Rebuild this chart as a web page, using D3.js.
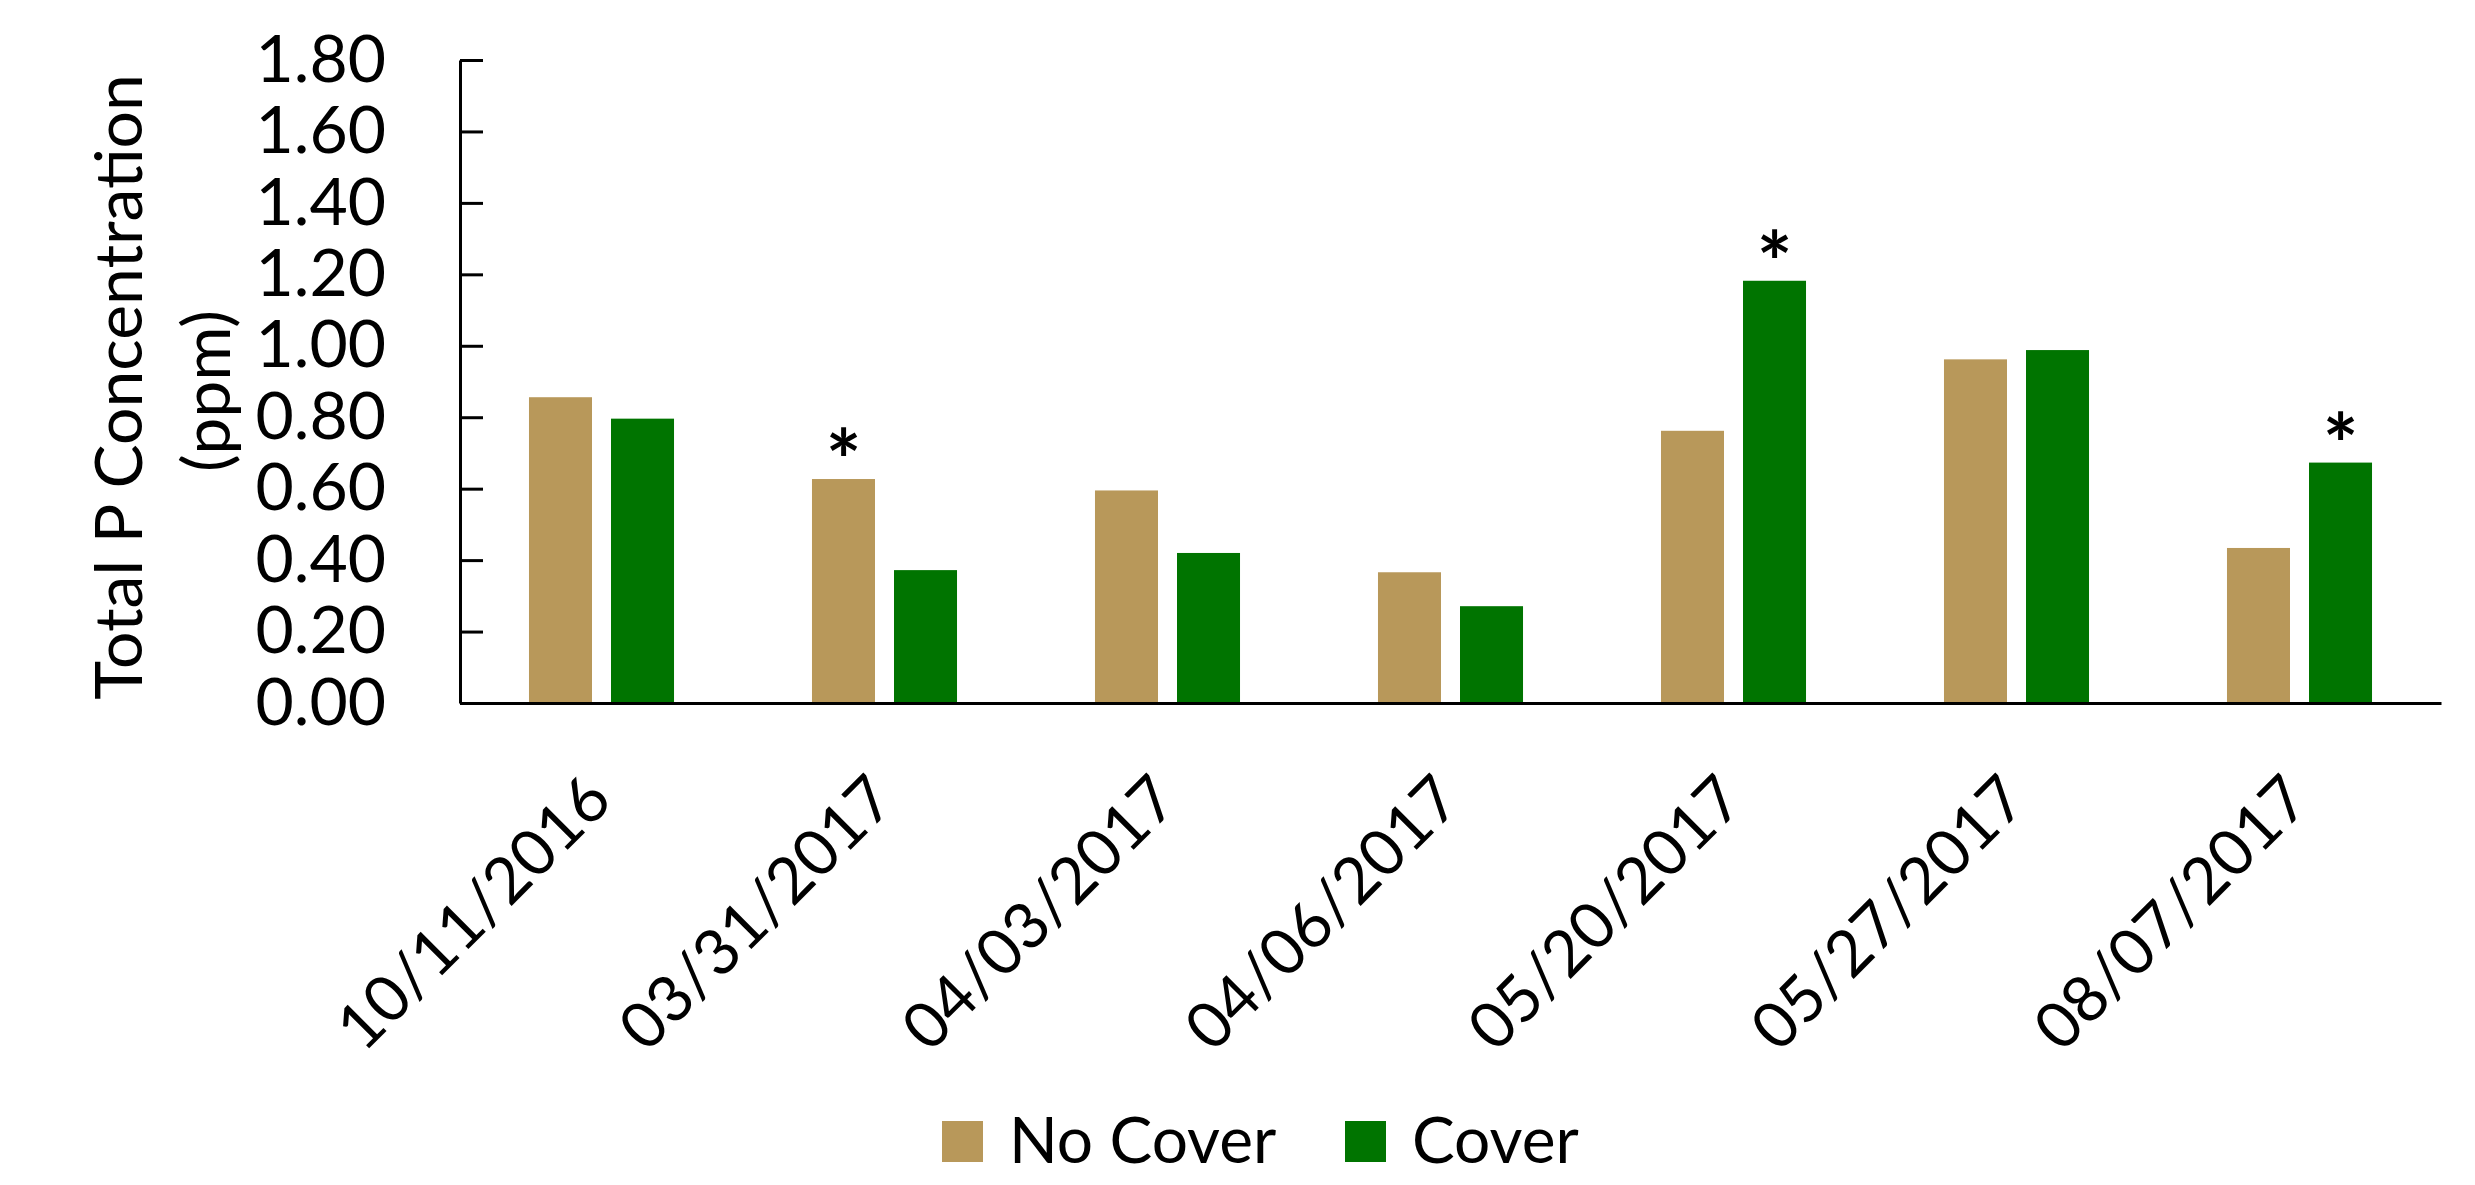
<!DOCTYPE html>
<html>
<head>
<meta charset="utf-8">
<script src="https://cdn.jsdelivr.net/npm/d3@7/dist/d3.min.js"></script>
<style>
  html, body { margin: 0; padding: 0; background: #ffffff; }
  svg { display: block; }
  text { font-family: Lato, "Open Sans", "Noto Sans", sans-serif; fill: #000; }
</style>
</head>
<body>
<svg id="chart" width="2475" height="1185"></svg>
<script>
// Sampling dates
const categories = ["10/11/2016", "03/31/2017", "04/03/2017", "04/06/2017", "05/20/2017", "05/27/2017", "08/07/2017"];
// Total P concentration (ppm) per treatment
const noCover = [0.856, 0.627, 0.595, 0.366, 0.762, 0.962, 0.434];
const cover   = [0.796, 0.372, 0.420, 0.271, 1.182, 0.988, 0.673];
const seriesNames = ["No Cover", "Cover"];
const seriesColors = ["#B8985A", "#007400"];
// Y-axis tick values
const yTicks = [0, 0.2, 0.4, 0.6, 0.8, 1.0, 1.2, 1.4, 1.6, 1.8];
// Significant differences, marked with an asterisk
const sigDates  = ["03/31/2017", "05/20/2017", "08/07/2017"];
const sigSeries = ["No Cover", "Cover", "Cover"];

const seriesValues = { "No Cover": noCover, "Cover": cover };
const rows = categories.map((c, i) => ({ date: c, values: seriesNames.map(s => ({ series: s, value: seriesValues[s][i] })) }));

const svg = d3.select("#chart");
const FS = 66;

const x0 = d3.scaleBand().domain(categories).range([460, 2441]).padding(0);
const x1 = d3.scaleBand().domain(seriesNames).range([0, x0.bandwidth()])
  .paddingInner(0.2317).paddingOuter(0.841);
const y = d3.scaleLinear().domain([0, 1.8]).range([703, 60]);
const color = d3.scaleOrdinal().domain(seriesNames).range(seriesColors);

// Bars
const groups = svg.append("g").selectAll("g").data(rows).join("g")
  .attr("transform", d => `translate(${x0(d.date)},0)`);
groups.selectAll("rect").data(d => d.values).join("rect")
  .attr("x", d => x1(d.series))
  .attr("width", x1.bandwidth())
  .attr("y", d => y(d.value))
  .attr("height", d => y(0) - y(d.value))
  .attr("fill", d => color(d.series));

// Significance asterisks
svg.append("g").selectAll("text").data(sigDates.map((d, i) => ({ date: d, series: sigSeries[i] })))
  .join("text")
  .attr("x", d => x0(d.date) + x1(d.series) + x1.bandwidth() / 2)
  .attr("y", d => y(seriesValues[d.series][categories.indexOf(d.date)]) + 12)
  .attr("text-anchor", "middle")
  .style("font-size", "84px")
  .style("font-weight", "bold")
  .text("*");

// Y axis
const yAxis = svg.append("g").attr("transform", "translate(460,0)")
  .call(d3.axisLeft(y).tickValues(yTicks).tickFormat(d3.format(".2f"))
    .tickSizeInner(-23).tickSizeOuter(0).tickPadding(74));
yAxis.selectAll("text").style("font-size", FS + "px").style("font-family", "Lato, 'Open Sans', sans-serif").attr("fill", "#000");
yAxis.selectAll("line").attr("stroke", "#000").attr("stroke-width", 3);
yAxis.select(".domain").attr("stroke", "#000").attr("stroke-width", 3);

// X axis
const xAxis = svg.append("g").attr("transform", "translate(0,703)")
  .call(d3.axisBottom(x0).tickSize(0).tickSizeOuter(0));
xAxis.select(".domain").attr("stroke", "#000").attr("stroke-width", 3);
xAxis.selectAll("text")
  .attr("x", 0).attr("y", 0).attr("dy", 0)
  .attr("text-anchor", "end")
  .attr("transform", "translate(13,100) rotate(-45)")
  .style("font-size", "64px").style("font-family", "Lato, 'Open Sans', sans-serif").attr("fill", "#000");

// Y axis title
const title = svg.append("g").style("font-size", FS + "px");
title.append("text").attr("transform", "translate(142,387) rotate(-90)")
  .attr("text-anchor", "middle").text("Total P Concentration");
title.append("text").attr("transform", "translate(230,391) rotate(-90)")
  .attr("text-anchor", "middle").text("(ppm)");

// Legend
const legendX = [942, 1345];
const legend = svg.append("g").selectAll("g").data(seriesNames).join("g")
  .attr("transform", (d, i) => `translate(${legendX[i]},1121)`);
legend.append("rect").attr("width", 41).attr("height", 41).attr("fill", d => color(d));
legend.append("text").attr("x", 67).attr("y", 42)
  .style("font-size", "64px").text(d => d);
</script>
</body>
</html>
